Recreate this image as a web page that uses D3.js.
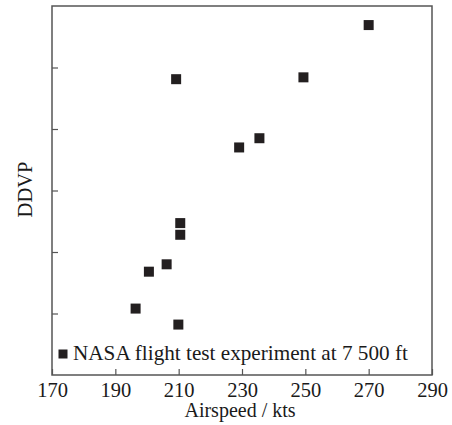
<!DOCTYPE html>
<html>
<head>
<meta charset="utf-8">
<script src="https://cdn.jsdelivr.net/npm/d3@7"></script>
<style>
  html, body { margin: 0; padding: 0; background: #fff; }
  svg { display: block; }
</style>
</head>
<body>
<svg id="chart" width="452" height="425"></svg>
<script>
// Flight test measurements: airspeed (kts) against DDVP
const airspeed = [270.0, 209.2, 249.4, 235.5, 229.1, 210.5, 210.5, 206.2, 200.6, 196.4, 209.9];
const ddvp     = [5.69, 4.81, 4.84, 3.85, 3.70, 2.47, 2.28, 1.80, 1.68, 1.08, 0.82];
const xTicks = [170, 190, 210, 230, 250, 270, 290];
const yTicks = [1, 2, 3, 4, 5];
const seriesName = "NASA flight test experiment at 7 500 ft";

const serif = '"Liberation Serif", "Times New Roman", serif';
const ink = "#1a1a1a";
const svg = d3.select("#chart");
const plot = { left: 52, right: 432, top: 6, bottom: 375 };

const x = d3.scaleLinear().domain([170, 290]).range([plot.left, plot.right]);
const y = d3.scaleLinear().domain([0, 6]).range([plot.bottom, plot.top]);

const axisColor = "#555";

// plot frame
svg.append("rect")
  .attr("x", plot.left).attr("y", plot.top)
  .attr("width", plot.right - plot.left).attr("height", plot.bottom - plot.top)
  .attr("fill", "none").attr("stroke", axisColor).attr("stroke-width", 1.5);

// x axis: inward ticks, labels below
const xAxis = svg.append("g")
  .attr("transform", `translate(0,${plot.bottom})`)
  .call(d3.axisBottom(x).tickValues(xTicks).tickSizeInner(-6).tickSizeOuter(0).tickPadding(7));
xAxis.select(".domain").remove();
xAxis.selectAll(".tick line").attr("stroke", axisColor).attr("stroke-width", 1.2);
xAxis.selectAll(".tick text")
  .style("font-family", serif).style("font-size", "20.5px").attr("fill", ink);

// y axis: inward ticks, no labels
const yAxis = svg.append("g")
  .attr("transform", `translate(${plot.left},0)`)
  .call(d3.axisLeft(y).tickValues(yTicks).tickSizeInner(-6).tickSizeOuter(0).tickFormat(""));
yAxis.select(".domain").remove();
yAxis.selectAll(".tick line").attr("stroke", axisColor).attr("stroke-width", 1.2);

// axis titles
svg.append("text")
  .attr("x", 240).attr("y", 417)
  .attr("text-anchor", "middle").attr("fill", ink)
  .style("font-family", serif).style("font-size", "20px")
  .text("Airspeed / kts");

svg.append("text")
  .attr("transform", "translate(32,189.5) rotate(-90)")
  .attr("text-anchor", "middle").attr("fill", ink)
  .style("font-family", serif).style("font-size", "20.5px")
  .text("DDVP");

// data markers
const size = 10;
svg.append("g").selectAll("rect")
  .data(d3.range(airspeed.length))
  .join("rect")
  .attr("x", i => x(airspeed[i]) - size / 2)
  .attr("y", i => y(ddvp[i]) - size / 2)
  .attr("width", size).attr("height", size)
  .attr("fill", "#231f20");

// legend
const legend = svg.append("g").attr("transform", "translate(63,354)");
legend.append("rect")
  .attr("x", -4.5).attr("y", -4.5).attr("width", 9).attr("height", 9)
  .attr("fill", "#231f20");
legend.append("text")
  .attr("x", 10).attr("y", 5.5).attr("fill", ink)
  .style("font-family", serif).style("font-size", "21.2px")
  .text(seriesName);
</script>
</body>
</html>
